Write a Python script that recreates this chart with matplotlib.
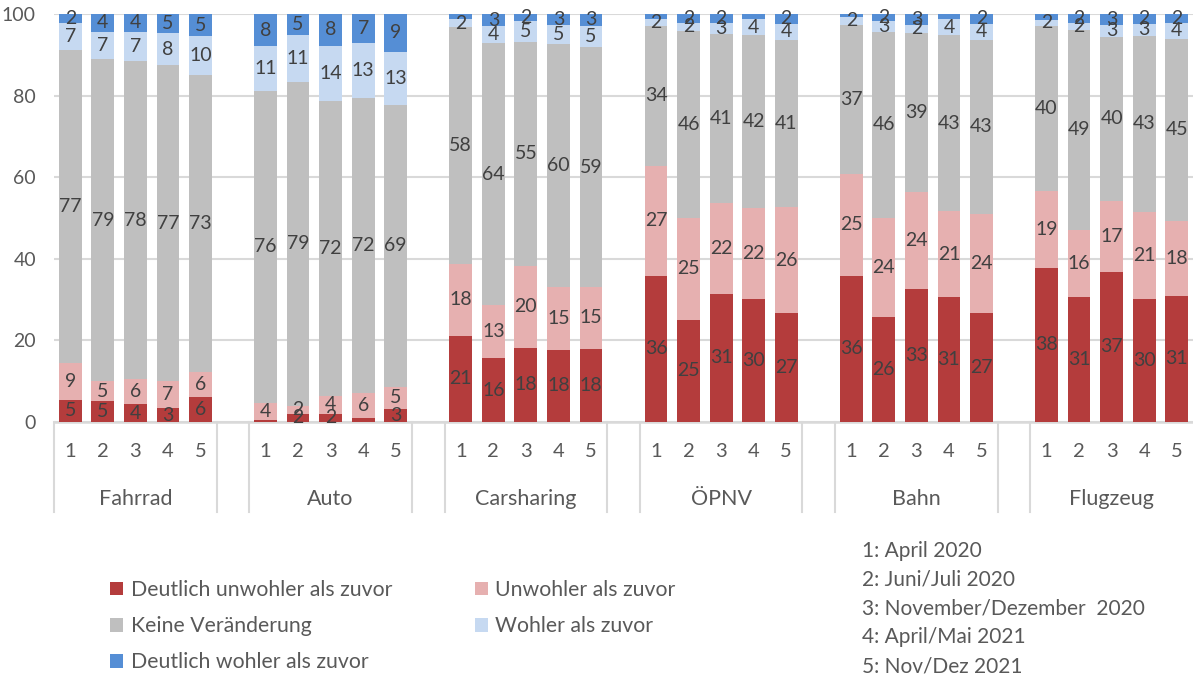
"""Stacked bars: Sicherheitsgefühl nach Verkehrsmittel und Befragungswelle."""

import matplotlib.pyplot as plt
import matplotlib.transforms as mtransforms
import numpy as np

plt.rcParams["font.family"] = ["Lato", "DejaVu Sans"]

groups = ["Fahrrad", "Auto", "Carsharing", "ÖPNV", "Bahn", "Flugzeug"]
periods = ["1", "2", "3", "4", "5"]
period_notes = [
    "1: April 2020",
    "2: Juni/Juli 2020",
    "3: November/Dezember  2020",
    "4: April/Mai 2021",
    "5: Nov/Dez 2021",
]

series_names = [
    "Deutlich unwohler als zuvor",
    "Unwohler als zuvor",
    "Keine Veränderung",
    "Wohler als zuvor",
    "Deutlich wohler als zuvor",
]
colors = ["#B43C3C", "#E6B0B0", "#BFBFBF", "#C6D9F1", "#558ED5"]

# one list per series, 6 groups x 5 waves, in percent
deutlich_unwohler = [5.4, 5.1, 4.3, 3.4, 6.1,
                     0.5, 2.0, 2.0, 1.1, 3.3,
                     21.2, 15.6, 18.2, 17.7, 17.9,
                     35.8, 25.0, 31.4, 30.2, 26.6,
                     35.8, 25.8, 32.6, 30.6, 26.7,
                     37.8, 30.7, 36.8, 30.2, 30.9]
unwohler = [9.1, 4.9, 6.2, 6.6, 6.1,
            4.2, 2.0, 4.4, 5.9, 5.2,
            17.6, 13.1, 20.1, 15.4, 15.2,
            27.0, 25.0, 22.3, 22.3, 26.0,
            25.0, 24.2, 23.8, 21.1, 24.4,
            18.9, 16.4, 17.4, 21.3, 18.4]
keine = [76.6, 79.0, 78.0, 77.4, 72.8,
         76.4, 79.4, 72.2, 72.4, 69.3,
         57.9, 64.1, 54.8, 59.6, 58.7,
         34.3, 45.9, 41.3, 42.3, 41.1,
         36.6, 45.7, 39.0, 43.1, 42.6,
         40.3, 49.0, 40.2, 43.2, 44.6]
wohler = [6.8, 6.6, 7.1, 7.9, 9.6,
          11.0, 11.4, 13.6, 13.4, 12.9,
          2.1, 4.2, 5.3, 4.7, 5.3,
          1.6, 2.0, 2.8, 4.0, 3.9,
          1.8, 2.6, 2.0, 4.0, 3.9,
          1.6, 1.8, 3.0, 2.9, 3.9]
deutlich_wohler = [2.1, 4.4, 4.4, 4.7, 5.4,
                   7.9, 5.2, 7.8, 7.2, 9.3,
                   1.2, 3.0, 1.6, 2.6, 2.9,
                   1.3, 2.1, 2.2, 1.2, 2.4,
                   0.8, 1.7, 2.6, 1.2, 2.4,
                   1.4, 2.1, 2.6, 2.4, 2.2]


def main() -> None:
    text_color = "#595959"
    label_color = "#404040"
    grid_color = "#D9D9D9"

    series = [deutlich_unwohler, unwohler, keine, wohler, deutlich_wohler]
    n_p = len(periods)
    # each group takes n_p slots plus one empty slot between groups
    x = np.array([g * (n_p + 1) + p for g in range(len(groups)) for p in range(n_p)])
    n_slots = len(groups) * (n_p + 1) - 1

    fig = plt.figure(figsize=(11.93, 6.78), dpi=100)
    ax = fig.add_axes([54 / 1193, 1 - 422 / 678, 1 - 54 / 1193, (422 - 14) / 678])

    bottom = np.zeros(len(x))
    handles = []
    for name, vals, col in zip(series_names, series, colors):
        vals = np.array(vals)
        bars = ax.bar(x, vals, width=0.7, bottom=bottom, color=col,
                      label=name, zorder=3)
        handles.append(bars)
        for xi, b, v in zip(x, bottom, vals):
            if round(v) >= 2:
                ax.text(xi, b + v / 2, f"{round(v)}", ha="center", va="center",
                        fontsize=14, color=label_color, zorder=4)
        bottom += vals

    ax.set_xlim(-0.5, n_slots - 0.5)
    ax.set_ylim(0, 100)
    ax.set_yticks(range(0, 101, 20))
    ax.set_xticks([])
    ax.tick_params(axis="y", length=0, pad=13, labelsize=14, labelcolor=text_color)
    ax.yaxis.grid(True, color=grid_color, linewidth=1.5, zorder=0)
    for side in ["top", "right", "left"]:
        ax.spines[side].set_visible(False)
    ax.spines["bottom"].set_color(grid_color)
    ax.spines["bottom"].set_linewidth(1.8)

    # two-level category axis
    trans = mtransforms.blended_transform_factory(ax.transData, ax.transAxes)
    for i, xi in enumerate(x):
        ax.text(xi, -0.072, periods[i % n_p], transform=trans, ha="center",
                va="center", fontsize=14.5, color=text_color)
    for g, name in enumerate(groups):
        start = g * (n_p + 1)
        ax.text(start + (n_p - 1) / 2, -0.188, name, transform=trans,
                ha="center", va="center", fontsize=15.5, color=text_color)
        edges = [start - 0.5, start + n_p - 0.5]
        for e in edges:
            if e < n_slots - 0.5:
                ax.plot([e, e], [0, -0.22], transform=trans, color=grid_color,
                        linewidth=1.5, clip_on=False)

    order = [0, 2, 4, 1, 3]
    fig.legend([handles[i] for i in order], [series_names[i] for i in order],
               loc="upper left", bbox_to_anchor=(110 / 1193, 1 - 580 / 678),
               ncol=2, frameon=False, fontsize=15.3, labelcolor=text_color,
               handlelength=0.62, handleheight=0.62, handletextpad=0.35,
               columnspacing=3.9, labelspacing=0.76, borderpad=0, borderaxespad=0)

    for i, note in enumerate(period_notes):
        fig.text(862 / 1193, 1 - (551 + 28.8 * i) / 678, note, ha="left",
                 va="center", fontsize=15, color=text_color)

    fig.savefig("out.png", dpi=100)


if __name__ == "__main__":
    main()
